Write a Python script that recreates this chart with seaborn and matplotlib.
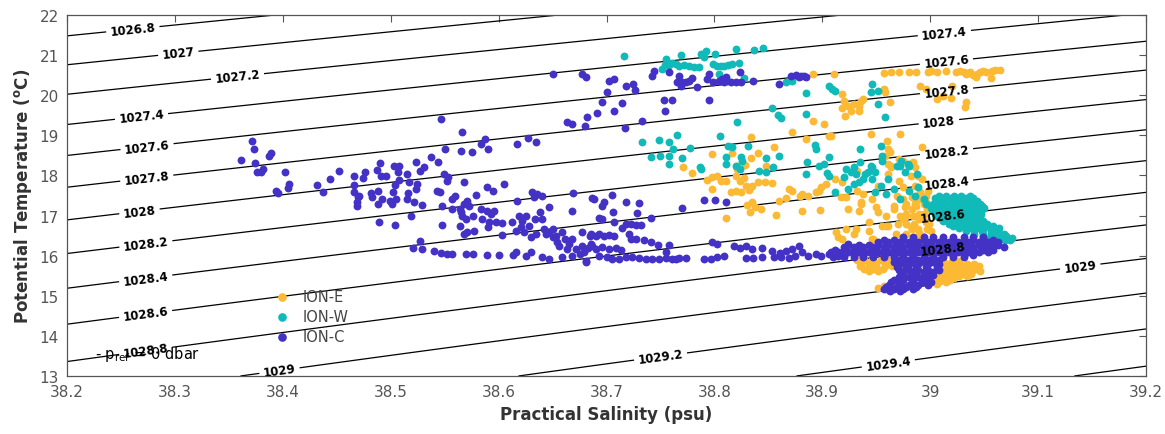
import numpy as np
import pandas as pd
import matplotlib
matplotlib.use("Agg")
import matplotlib.pyplot as plt
import seaborn as sns

# ---------------- data (salinity psu, potential temperature degC) ----------------
ione_points = [
    # upper warm row
    (38.891, 20.53), (38.911, 20.53), (38.957, 20.55), (38.964, 20.58), (38.971, 20.58), (38.980, 20.58),
    (38.987, 20.58), (38.998, 20.58), (39.001, 20.60), (39.006, 20.58), (39.015, 20.60), (39.028, 20.60),
    (39.031, 20.58), (39.033, 20.53), (39.037, 20.58), (39.040, 20.50), (39.043, 20.53), (39.046, 20.58),
    (39.049, 20.60), (39.052, 20.58), (39.057, 20.60), (39.060, 20.63), (39.065, 20.63), (39.042, 20.45),
    (39.056, 20.43), (39.035, 20.55), (39.024, 20.58),
    (38.991, 20.23), (38.996, 20.15), (39.006, 19.91), (39.012, 19.98), (39.019, 19.93), (39.020, 20.23),
    (39.033, 19.83), (39.032, 19.71), (38.918, 20.03), (38.920, 19.86), (38.918, 19.68), (38.921, 19.48),
    (38.924, 19.73), (38.927, 19.61), (38.929, 19.78), (38.934, 19.73), (38.936, 19.86), (38.938, 19.91),
    (38.934, 19.61), (38.957, 20.15), (38.958, 20.08), (38.963, 19.83), (38.945, 19.03), (38.972, 19.03),
    (38.960, 18.86), (38.961, 18.66), (38.963, 18.58), (38.992, 18.71), (38.958, 18.48), (38.971, 18.41),
    (38.961, 18.28), (38.964, 18.21), (38.908, 18.98),
    (38.891, 19.36), (38.902, 19.28), (38.872, 19.08), (38.834, 18.96), (38.885, 18.91), (38.906, 18.98),
    (38.855, 18.71), (38.798, 18.53), (38.816, 18.56), (38.834, 18.43), (38.840, 18.56), (38.848, 18.23),
    (38.771, 18.21), (38.821, 18.23), (38.828, 18.26),
    (38.779, 18.06), (38.793, 17.89), (38.798, 17.96), (38.802, 17.98), (38.806, 17.86), (38.811, 17.86),
    (38.820, 17.98), (38.821, 18.16), (38.824, 17.86), (38.827, 17.94), (38.829, 17.74), (38.825, 17.59),
    (38.832, 17.64), (38.835, 17.74), (38.840, 17.84), (38.847, 17.84), (38.853, 17.81), (38.798, 17.66),
    (38.815, 17.59), (38.820, 17.61), (38.830, 17.26), (38.833, 17.09), (38.835, 17.34), (38.838, 17.21),
    (38.843, 17.16), (38.811, 16.94), (38.857, 17.01), (38.860, 17.36), (38.866, 17.44), (38.869, 17.66),
    (38.872, 17.61), (38.879, 17.49), (38.881, 17.54), (38.887, 17.49), (38.894, 17.59), (38.897, 17.61),
    (38.899, 17.71), (38.903, 17.79), (38.881, 17.11), (38.898, 17.14), (38.913, 16.59),
    # dense eastern cluster
    (38.918, 17.84), (38.922, 17.46), (38.932, 18.11), (38.936, 17.34), (38.938, 17.54), (38.946, 17.41),
    (38.950, 17.21), (38.934, 17.11), (38.922, 16.66), (38.929, 16.54), (38.943, 16.61), (38.947, 16.41),
    (38.918, 16.41), (38.959, 16.99), (38.961, 18.03), (38.964, 18.23), (38.966, 17.24), (38.969, 17.49),
    (38.971, 17.86), (38.972, 16.99), (38.975, 17.71), (38.977, 17.21), (38.978, 16.79), (38.982, 17.98),
    (38.983, 17.46), (38.984, 16.99), (38.986, 17.74), (38.987, 17.24), (38.989, 16.66), (38.991, 17.59),
    (38.992, 17.91), (38.994, 17.04), (38.996, 17.34), (38.996, 16.84), (38.998, 17.61), (39.000, 17.16),
    (39.001, 16.61), (38.961, 16.74), (38.968, 16.54), (38.955, 16.74), (38.952, 17.74), (38.972, 18.28),
    (38.980, 18.23), (38.986, 18.21), (38.989, 17.98), (38.912, 17.91), (38.917, 17.46), (38.931, 18.08),
    (38.932, 17.61), (38.924, 17.16), (38.936, 17.29), (38.952, 17.09), (38.943, 16.84), (38.931, 16.66),
    (38.915, 16.46), (38.946, 16.41), (38.959, 16.74), (38.966, 17.16), (38.977, 16.96), (38.982, 16.71),
    (38.986, 17.41), (38.996, 17.49), (38.998, 17.24), (38.992, 16.49), (38.984, 18.33), (38.975, 18.36),
    (38.975, 17.41), (38.990, 17.41), (38.983, 17.16), (38.997, 17.16), (38.975, 16.91), (38.990, 16.91),
    (38.983, 16.66), (38.997, 16.66), (38.975, 16.46), (38.990, 16.46),
    (38.978, 17.30), (38.986, 17.30), (38.994, 17.30), (38.978, 17.05), (38.990, 17.05),
    (38.970, 16.80), (38.985, 16.80), (38.999, 16.80), (38.978, 16.55), (38.990, 16.57),
    # lower lobes
    (38.932, 15.89), (38.939, 15.89), (38.946, 15.89), (38.954, 15.89), (38.961, 15.89), (38.969, 15.89),
    (38.935, 15.74), (38.943, 15.74), (38.950, 15.74), (38.958, 15.74), (38.965, 15.74), (38.972, 15.74),
    (38.943, 15.62), (38.952, 15.62),
    (38.936, 15.82), (38.943, 15.82), (38.950, 15.82), (38.958, 15.82), (38.965, 15.82),
    (38.939, 15.68), (38.947, 15.68), (38.956, 15.68),
    (39.012, 15.86), (39.020, 15.86), (39.027, 15.86), (39.008, 15.74), (39.015, 15.74), (39.022, 15.74),
    (39.030, 15.74), (39.037, 15.74), (39.045, 15.74), (39.009, 15.62), (39.017, 15.62), (39.024, 15.62),
    (39.032, 15.62), (39.039, 15.62), (39.046, 15.62), (39.012, 15.49), (39.020, 15.49), (39.027, 15.49),
    (39.034, 15.49), (39.003, 15.39), (39.010, 15.39), (39.018, 15.39),
    (39.016, 15.80), (39.024, 15.80), (39.034, 15.80), (39.041, 15.80), (39.012, 15.68), (39.020, 15.68),
    (39.028, 15.68), (39.035, 15.68), (39.042, 15.68), (39.016, 15.55), (39.024, 15.55), (39.031, 15.55),
    (39.038, 15.55), (39.006, 15.44), (39.014, 15.44), (39.022, 15.44),
    (38.957, 15.24), (38.952, 15.19), (38.961, 15.14), (39.006, 15.29), (39.015, 15.34),
]

ionw_points = [
    (38.716, 20.98), (38.755, 20.90), (38.769, 21.00), (38.788, 21.03), (38.792, 21.10), (38.801, 21.03),
    (38.820, 21.15), (38.837, 21.13), (38.845, 21.18), (38.754, 20.75), (38.758, 20.75), (38.761, 20.80),
    (38.764, 20.78), (38.767, 20.73), (38.772, 20.75), (38.776, 20.73), (38.781, 20.70), (38.786, 20.70),
    (38.790, 20.95), (38.799, 20.78), (38.802, 20.73), (38.806, 20.73), (38.809, 20.73), (38.813, 20.75),
    (38.816, 20.78), (38.823, 20.80), (38.751, 20.65), (38.804, 20.53), (38.827, 20.43), (38.866, 20.33),
    (38.872, 20.35), (38.885, 20.05), (38.906, 20.23), (38.912, 20.10), (38.853, 19.68), (38.859, 19.51),
    (38.862, 19.43), (38.885, 19.53), (38.821, 19.33), (38.733, 18.83), (38.749, 18.88), (38.758, 18.83),
    (38.765, 19.01), (38.762, 18.66), (38.741, 18.46), (38.750, 18.48), (38.758, 18.48), (38.770, 18.43),
    (38.777, 18.68), (38.805, 18.98), (38.813, 18.73), (38.816, 18.71), (38.811, 18.46), (38.825, 18.46),
    (38.831, 18.73), (38.848, 18.43), (38.860, 18.48), (38.893, 18.76), (38.894, 18.66), (38.906, 18.46),
    (38.758, 18.28), (38.787, 18.21), (38.897, 18.23),
    (38.788, 18.16), (38.811, 18.28), (38.820, 18.23), (38.824, 18.16), (38.826, 18.36), (38.841, 18.11),
    (38.848, 18.08), (38.854, 18.21), (38.885, 18.03), (38.886, 18.33), (38.902, 18.28), (38.904, 18.06),
    (38.906, 17.98), (38.912, 17.59),
    (38.909, 20.15), (38.946, 20.28), (38.945, 20.08), (38.952, 20.10), (38.952, 19.78), (38.958, 19.46),
    (38.935, 18.66), (38.954, 18.73), (38.955, 18.48), (38.929, 18.21), (38.946, 18.21), (38.972, 18.23),
    (38.980, 18.23),
    # western part of the eastern cluster
    (38.922, 18.16), (38.927, 18.08), (38.929, 17.79), (38.934, 17.84), (38.940, 18.03), (38.945, 18.23),
    (38.946, 17.91), (38.949, 18.08), (38.954, 17.74), (38.955, 18.36), (38.961, 17.91), (38.966, 17.66),
    (38.969, 18.23), (38.977, 18.08), (38.980, 17.61), (38.986, 17.49), (38.989, 17.71), (38.994, 17.41),
    (38.996, 17.29), (38.973, 18.36), (38.935, 18.33), (38.920, 17.96), (38.924, 17.66), (38.949, 17.59),
    (38.959, 17.54), (38.972, 17.41), (38.938, 17.91), (38.931, 18.03), (38.942, 18.08), (38.979, 18.28),
    (38.988, 18.03),
    # dense eastern blob and tail
    (39.008, 17.49), (39.015, 17.49), (39.022, 17.49), (39.029, 17.49), (39.037, 17.49),
    (39.006, 17.36), (39.013, 17.36), (39.021, 17.36), (39.028, 17.36), (39.035, 17.36), (39.043, 17.36),
    (39.004, 17.24), (39.011, 17.24), (39.019, 17.24), (39.026, 17.24), (39.033, 17.24), (39.041, 17.24),
    (39.048, 17.24), (39.003, 17.11), (39.010, 17.11), (39.018, 17.11), (39.025, 17.11), (39.032, 17.11),
    (39.040, 17.11), (39.047, 17.11), (39.006, 16.99), (39.013, 16.99), (39.021, 16.99), (39.028, 16.99),
    (39.035, 16.99), (39.043, 16.99), (39.012, 16.86), (39.020, 16.86), (39.027, 16.86), (39.034, 16.86),
    (39.042, 16.86), (39.049, 16.86), (39.021, 16.74), (39.029, 16.74), (39.036, 16.74), (39.043, 16.74),
    (39.051, 16.74), (39.058, 16.74), (39.033, 16.61), (39.041, 16.61), (39.048, 16.61), (39.056, 16.61),
    (39.063, 16.61), (39.049, 16.49), (39.057, 16.49), (39.064, 16.49), (39.070, 16.49), (39.061, 16.39),
    (39.069, 16.39), (39.074, 16.39),
    (39.004, 17.43), (39.011, 17.43), (39.019, 17.43), (39.026, 17.43), (39.033, 17.43), (39.040, 17.43),
    (39.003, 17.30), (39.010, 17.30), (39.017, 17.30), (39.024, 17.30), (39.031, 17.30), (39.039, 17.30),
    (39.046, 17.30), (39.001, 17.18), (39.008, 17.18), (39.015, 17.18), (39.022, 17.18), (39.029, 17.18),
    (39.037, 17.18), (39.044, 17.18), (39.050, 17.18), (39.004, 17.05), (39.011, 17.05), (39.019, 17.05),
    (39.026, 17.05), (39.033, 17.05), (39.040, 17.05), (39.047, 17.05), (39.009, 16.93), (39.016, 16.93),
    (39.024, 16.93), (39.031, 16.93), (39.038, 16.93), (39.046, 16.93), (39.017, 16.80), (39.024, 16.80),
    (39.031, 16.80), (39.039, 16.80), (39.046, 16.80), (39.053, 16.80), (39.027, 16.68), (39.035, 16.68),
    (39.042, 16.68), (39.050, 16.68), (39.057, 16.68), (39.064, 16.68), (39.041, 16.55), (39.049, 16.55),
    (39.056, 16.55), (39.063, 16.55), (39.068, 16.55), (39.055, 16.44), (39.063, 16.44), (39.070, 16.44),
    (39.076, 16.44),
]

ionc_points = [
    # western cluster
    (38.361, 18.38), (38.371, 18.86), (38.373, 18.66), (38.374, 18.31), (38.376, 18.08), (38.380, 18.08),
    (38.382, 18.16), (38.387, 18.48), (38.389, 18.56), (38.402, 18.08), (38.406, 17.79), (38.405, 17.69),
    (38.394, 17.61), (38.396, 17.56), (38.432, 17.76), (38.437, 17.59), (38.444, 17.91), (38.452, 18.11),
    (38.466, 17.98), (38.466, 17.76), (38.466, 17.59), (38.470, 17.46), (38.469, 17.34), (38.476, 18.08),
    (38.474, 17.94), (38.471, 17.49), (38.469, 17.24), (38.487, 18.13), (38.490, 18.31), (38.491, 17.98),
    (38.496, 17.98), (38.503, 18.23), (38.508, 18.23), (38.507, 18.08), (38.508, 17.89), (38.504, 17.76),
    (38.502, 17.59), (38.505, 17.41), (38.482, 17.56), (38.483, 17.46), (38.488, 17.61), (38.492, 17.41),
    (38.488, 17.29), (38.499, 17.36), (38.501, 17.29), (38.489, 16.84), (38.504, 16.76), (38.515, 18.03),
    (38.517, 17.84), (38.516, 17.56), (38.515, 17.41), (38.519, 16.99), (38.523, 18.33), (38.524, 17.79),
    (38.523, 17.66), (38.522, 17.34), (38.527, 18.11), (38.531, 18.21), (38.537, 18.46), (38.544, 18.33),
    (38.529, 17.26), (38.543, 17.61), (38.546, 17.59), (38.548, 17.24), (38.549, 18.03), (38.552, 17.86),
    (38.553, 17.96), (38.548, 16.76), (38.557, 17.41), (38.560, 17.49), (38.557, 17.16), (38.564, 17.16),
    (38.568, 17.84), (38.568, 17.29), (38.571, 17.36), (38.573, 17.24), (38.565, 17.09), (38.566, 16.99),
    (38.570, 16.91), (38.564, 16.74), (38.568, 16.54), (38.571, 16.59), (38.577, 16.61), (38.576, 16.99),
    (38.579, 17.51), (38.584, 17.16), (38.585, 16.91), (38.589, 17.71), (38.589, 17.11), (38.593, 17.04),
    (38.591, 16.84), (38.590, 16.71), (38.595, 17.61), (38.596, 17.11), (38.598, 16.84), (38.603, 16.81),
    (38.605, 17.79), (38.603, 16.51), (38.612, 16.84), (38.616, 16.61), (38.617, 17.36), (38.619, 16.99),
    (38.621, 16.71), (38.622, 16.86), (38.624, 16.59), (38.625, 16.99), (38.628, 16.74), (38.630, 16.46),
    (38.631, 17.59), (38.633, 17.46), (38.634, 16.91), (38.635, 16.54), (38.636, 17.54), (38.640, 17.49),
    (38.638, 17.09), (38.640, 16.91), (38.642, 16.66), (38.644, 16.54), (38.647, 17.21), (38.647, 16.59),
    (38.650, 16.66), (38.650, 16.46), (38.653, 16.49), (38.654, 16.34), (38.656, 16.24), (38.659, 16.59),
    (38.662, 16.41), (38.663, 16.16), (38.665, 16.29), (38.668, 16.41), (38.669, 17.56), (38.668, 17.11),
    (38.672, 16.16), (38.675, 16.04), (38.677, 16.59), (38.677, 16.24), (38.679, 16.09), (38.681, 15.87),
    (38.683, 16.19), (38.685, 16.49), (38.687, 16.24), (38.688, 17.41), (38.690, 16.49), (38.693, 16.94),
    (38.521, 16.19), (38.527, 16.36), (38.529, 16.16), (38.540, 16.11), (38.547, 16.06), (38.552, 16.04),
    (38.557, 16.04), (38.570, 16.04), (38.576, 16.04), (38.589, 16.01), (38.600, 16.01), (38.613, 16.01),
    (38.616, 16.09), (38.625, 15.99), (38.630, 16.09), (38.640, 15.96), (38.647, 15.92), (38.659, 15.96),
    (38.668, 15.99), (38.681, 15.84),
    # upper scattered points
    (38.547, 19.41), (38.566, 19.08), (38.587, 18.91), (38.584, 18.78), (38.590, 18.66), (38.617, 18.78),
    (38.627, 18.93), (38.635, 18.83), (38.663, 19.33), (38.668, 19.28), (38.680, 19.23), (38.550, 18.66),
    (38.565, 18.61), (38.575, 18.58),
    (38.650, 20.53), (38.677, 20.53), (38.681, 20.45), (38.702, 20.35), (38.707, 20.40), (38.718, 20.23),
    (38.725, 20.28), (38.726, 20.13), (38.700, 20.08), (38.696, 19.83), (38.714, 19.81), (38.707, 19.61),
    (38.691, 19.56), (38.682, 19.46), (38.717, 19.18), (38.733, 19.36), (38.742, 20.48), (38.744, 20.60),
    (38.753, 19.88), (38.761, 19.88), (38.754, 19.61),
    (38.758, 20.58), (38.767, 20.48), (38.765, 20.33), (38.770, 20.33), (38.774, 20.33), (38.776, 20.35),
    (38.779, 20.43), (38.784, 20.20), (38.769, 20.23), (38.795, 19.88), (38.793, 20.40), (38.795, 20.53),
    (38.799, 20.33), (38.804, 20.35), (38.807, 20.40), (38.809, 20.33), (38.811, 20.45), (38.812, 20.35),
    (38.815, 20.33), (38.820, 20.33), (38.824, 20.58), (38.825, 20.33), (38.836, 20.35), (38.860, 20.28),
    (38.871, 20.48), (38.876, 20.50), (38.880, 20.48), (38.883, 20.48), (38.878, 20.45), (38.885, 20.45),
    # central band
    (38.687, 17.44), (38.698, 17.34), (38.705, 17.51), (38.696, 17.24), (38.718, 17.34), (38.730, 17.31),
    (38.728, 17.06), (38.706, 17.09), (38.741, 16.94), (38.770, 17.19), (38.790, 17.39), (38.801, 17.39),
    (38.811, 17.34), (38.696, 16.91), (38.707, 16.84), (38.714, 16.69), (38.718, 16.79), (38.723, 16.79),
    (38.727, 16.76), (38.732, 16.76), (38.686, 16.54), (38.693, 16.54), (38.698, 16.49), (38.702, 16.51),
    (38.707, 16.49), (38.721, 16.54), (38.723, 16.41), (38.727, 16.41), (38.735, 16.39), (38.741, 16.34),
    (38.748, 16.26), (38.758, 16.26), (38.686, 16.29), (38.690, 16.16), (38.696, 16.21), (38.702, 16.16),
    (38.709, 16.19), (38.713, 16.14), (38.693, 15.99), (38.700, 15.96), (38.705, 15.91), (38.712, 15.91),
    (38.718, 15.96), (38.724, 15.96), (38.730, 15.94), (38.737, 15.91), (38.742, 15.91), (38.749, 15.91),
    (38.755, 15.94), (38.761, 15.91), (38.767, 15.94), (38.774, 15.94), (38.790, 15.91), (38.797, 15.91),
    (38.802, 15.96), (38.809, 15.99), (38.755, 16.09), (38.764, 15.91), (38.798, 16.34), (38.802, 16.29),
    (38.818, 16.24), (38.824, 16.19), (38.829, 16.24), (38.835, 16.16), (38.844, 16.19), (38.829, 15.94),
    (38.836, 15.94), (38.844, 15.96), (38.853, 16.11), (38.861, 16.06), (38.866, 16.11), (38.872, 16.16),
    (38.878, 16.24), (38.881, 16.09), (38.855, 15.96), (38.862, 15.96), (38.869, 15.94), (38.875, 15.99),
    (38.887, 15.99), (38.894, 16.04), (38.899, 15.99), (38.906, 16.04), (38.910, 15.99), (38.915, 15.99),
    # dense eastern blob
    (38.975, 16.46), (38.984, 16.46), (38.994, 16.46), (39.003, 16.46), (39.012, 16.46), (39.021, 16.46),
    (39.031, 16.46), (39.040, 16.46), (39.049, 16.46),
    (38.952, 16.34), (38.961, 16.34), (38.971, 16.34), (38.980, 16.34), (38.989, 16.34), (38.998, 16.34),
    (39.008, 16.34), (39.017, 16.34), (39.026, 16.34), (39.035, 16.34), (39.045, 16.34), (39.054, 16.34),
    (39.063, 16.34),
    (38.920, 16.21), (38.929, 16.21), (38.938, 16.21), (38.947, 16.21), (38.957, 16.21), (38.966, 16.21),
    (38.975, 16.21), (38.984, 16.21), (38.994, 16.21), (39.003, 16.21), (39.012, 16.21), (39.021, 16.21),
    (39.031, 16.21), (39.040, 16.21), (39.049, 16.21), (39.058, 16.21), (39.068, 16.21),
    (38.908, 16.09), (38.915, 16.09), (38.924, 16.09), (38.934, 16.09), (38.943, 16.09), (38.952, 16.09),
    (38.961, 16.09), (38.971, 16.09), (38.980, 16.09), (38.989, 16.09), (38.998, 16.09), (39.008, 16.09),
    (39.017, 16.09), (39.026, 16.09), (39.035, 16.09), (39.045, 16.09), (39.054, 16.09),
    (38.910, 15.96), (38.920, 15.96), (38.929, 15.96), (38.938, 15.96), (38.947, 15.96), (38.957, 15.96),
    (38.966, 15.96), (38.975, 15.96), (38.984, 15.96), (38.994, 15.96), (39.003, 15.96), (39.012, 15.96),
    (39.021, 15.96), (39.031, 15.96),
    (38.966, 15.84), (38.975, 15.84), (38.984, 15.84), (38.994, 15.84), (39.003, 15.84),
    (38.969, 15.72), (38.978, 15.72), (38.987, 15.72), (38.996, 15.72), (39.006, 15.72),
    (38.975, 15.59), (38.984, 15.59), (38.994, 15.59), (39.003, 15.59),
    (38.971, 15.47), (38.980, 15.47), (38.989, 15.47), (38.998, 15.47),
    (38.964, 15.34), (38.973, 15.34), (38.983, 15.34), (38.992, 15.34), (39.001, 15.34),
    (38.959, 15.22), (38.969, 15.22), (38.978, 15.22), (38.987, 15.22),
    (38.963, 15.12), (38.972, 15.12), (38.924, 16.29),
    (38.957, 16.40), (38.966, 16.40), (38.975, 16.40), (38.984, 16.40), (38.994, 16.40), (39.003, 16.40),
    (39.012, 16.40), (39.021, 16.40), (39.031, 16.40), (39.040, 16.40), (39.049, 16.40), (39.058, 16.40),
    (38.924, 16.27), (38.934, 16.27), (38.943, 16.27), (38.952, 16.27), (38.961, 16.27), (38.971, 16.27),
    (38.980, 16.27), (38.989, 16.27), (38.998, 16.27), (39.008, 16.27), (39.017, 16.27), (39.026, 16.27),
    (39.035, 16.27), (39.045, 16.27), (39.054, 16.27), (39.063, 16.27),
    (38.912, 16.15), (38.920, 16.15), (38.929, 16.15), (38.938, 16.15), (38.947, 16.15), (38.957, 16.15),
    (38.966, 16.15), (38.975, 16.15), (38.984, 16.15), (38.994, 16.15), (39.003, 16.15), (39.012, 16.15),
    (39.021, 16.15), (39.031, 16.15), (39.040, 16.15), (39.049, 16.15), (39.058, 16.15),
    (38.912, 16.02), (38.920, 16.02), (38.929, 16.02), (38.938, 16.02), (38.947, 16.02), (38.957, 16.02),
    (38.966, 16.02), (38.975, 16.02), (38.984, 16.02), (38.994, 16.02), (39.003, 16.02), (39.012, 16.02),
    (39.021, 16.02), (39.031, 16.02), (39.040, 16.02),
    (38.970, 15.90), (38.980, 15.90), (38.989, 15.90), (38.998, 15.90), (39.008, 15.90),
    (38.971, 15.78), (38.980, 15.78), (38.989, 15.78), (38.998, 15.78), (39.008, 15.78),
    (38.971, 15.65), (38.980, 15.65), (38.989, 15.65), (38.998, 15.65), (39.008, 15.65),
    (38.975, 15.53), (38.984, 15.53), (38.994, 15.53), (39.003, 15.53),
    (38.966, 15.40), (38.975, 15.40), (38.984, 15.40), (38.994, 15.40),
    (38.962, 15.28), (38.971, 15.28), (38.980, 15.28), (38.989, 15.28), (38.998, 15.28),
    (38.957, 15.17), (38.966, 15.17), (38.975, 15.17), (38.984, 15.17),
]

station_names = ["ION-E", "ION-W", "ION-C"]
station_colors = ["#FBB934", "#10BAB8", "#4432C6"]

# isopycnal levels (kg m^-3) and where their labels sit (salinity, temperature)
sigma_levels = [1026.8, 1027.0, 1027.2, 1027.4, 1027.6, 1027.8, 1028.0, 1028.2,
                1028.4, 1028.6, 1028.8, 1029.0, 1029.2, 1029.4, 1029.6]
label_spots = [
    (38.261, 21.65), (38.303, 21.08), (38.358, 20.48), (38.269, 19.48), (38.274, 18.76),
    (38.274, 17.91), (38.267, 17.14), (38.273, 16.31), (38.273, 15.42), (38.273, 14.52),
    (38.273, 13.62), (38.397, 13.12),
    (39.013, 21.58), (39.015, 20.85), (39.015, 20.13), (39.008, 19.36), (39.015, 18.63),
    (39.015, 17.84), (39.012, 16.99), (39.012, 16.16), (39.139, 15.74), (38.750, 13.50),
    (38.961, 13.35),
]

sal_lim = (38.2, 39.2)
temp_lim = (13, 22)
sal_ticks = [38.2, 38.3, 38.4, 38.5, 38.6, 38.7, 38.8, 38.9, 39.0, 39.1, 39.2]
temp_ticks = [13, 14, 15, 16, 17, 18, 19, 20, 21, 22]


def rho_unesco(S, T):
    """UNESCO (1983) density of sea water at p = 0."""
    rw = (999.842594 + 6.793952e-2 * T - 9.095290e-3 * T**2 + 1.001685e-4 * T**3
          - 1.120083e-6 * T**4 + 6.536332e-9 * T**5)
    a = 0.824493 - 4.0899e-3 * T + 7.6438e-5 * T**2 - 8.2467e-7 * T**3 + 5.3875e-9 * T**4
    b = -5.72466e-3 + 1.0227e-4 * T - 1.6546e-6 * T**2
    c = 4.8314e-4
    return rw + a * S + b * S**1.5 + c * S**2


frames = []
for name, pts in zip(station_names, [ione_points, ionw_points, ionc_points]):
    arr = np.array(pts)
    frames.append(pd.DataFrame({"S": arr[:, 0], "T": arr[:, 1], "station": name}))
df = pd.concat(frames, ignore_index=True)

sns.set_style("white")
plt.rcParams["font.family"] = ["DejaVu Sans"]

fig, ax = plt.subplots(figsize=(11.65, 4.35), dpi=100)
fig.subplots_adjust(left=67 / 1165, right=1146 / 1165, top=1 - 16 / 435, bottom=1 - 377 / 435)

sg, tg = np.meshgrid(np.linspace(sal_lim[0], sal_lim[1], 400), np.linspace(temp_lim[0], temp_lim[1], 400))
rho = rho_unesco(sg, tg)
cs = ax.contour(sg, tg, rho, levels=sigma_levels, colors="black", linewidths=0.9, zorder=1)
plt.rcParams["font.weight"] = "bold"
labels = ax.clabel(cs, fmt="%g", manual=label_spots, inline=True, fontsize=8.5, inline_spacing=4)
plt.rcParams["font.weight"] = "normal"
for t in labels:
    t.set_fontweight("bold")
    t.set_color("black")
    t.set_zorder(6)

for name, col in zip(station_names, station_colors):
    sub = df[df["station"] == name]
    sns.scatterplot(data=sub, x="S", y="T", color=col, s=32, linewidth=0, ax=ax,
                    label=name, zorder=3)

ax.text(38.226, 13.55, r"- p$_{\rm ref}$ = 0 dbar", fontsize=10.5, va="center", ha="left",
        color="black", zorder=4)

ax.set_xlim(*sal_lim)
ax.set_ylim(*temp_lim)
ax.set_xticks(sal_ticks)
ax.set_yticks(temp_ticks)
ax.xaxis.set_major_formatter(matplotlib.ticker.FormatStrFormatter("%g"))
ax.yaxis.set_major_formatter(matplotlib.ticker.FormatStrFormatter("%g"))
ax.tick_params(direction="in", length=5, width=0.8, top=True, right=True, labelsize=11,
               colors="#555555", pad=6)
for sp in ax.spines.values():
    sp.set_color("#555555")
    sp.set_linewidth(0.9)

ax.set_xlabel("Practical Salinity (psu)", fontsize=12, fontweight="bold", color="#333333", labelpad=4)
ax.set_ylabel(r"Potential Temperature ($^{\mathbf{o}}$C)", fontsize=12, fontweight="bold",
              color="#333333", labelpad=4)

leg = ax.legend(loc="upper left", bbox_to_anchor=(0.187, 0.257), frameon=False, fontsize=10.5,
                handlelength=1.0, handletextpad=0.9, labelspacing=0.34, borderpad=0.4,
                borderaxespad=0, markerscale=1.1)
for t in leg.get_texts():
    t.set_color("#444444")

fig.savefig("out.png", dpi=100)
